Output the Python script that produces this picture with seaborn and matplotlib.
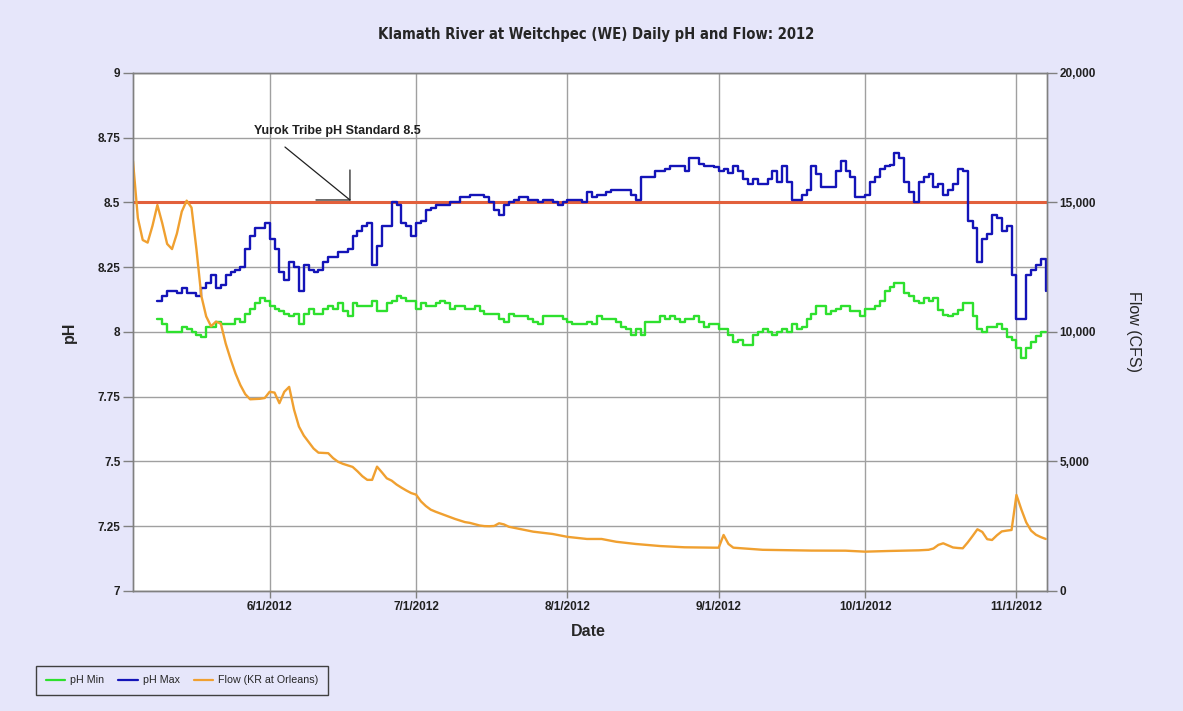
import pandas as pd
import numpy as np
import seaborn as sns
import matplotlib.pyplot as plt
from matplotlib.ticker import FuncFormatter, MultipleLocator
from matplotlib.lines import Line2D
import matplotlib.dates as mdates

# Daily pH readings, first day 5/9/2012
ph_start = "2012-05-09"
ph_min = [8.05, 8.03, 8.00, 8.00, 8.00, 8.02, 8.01, 8.00, 7.99, 7.98,
          8.02, 8.02, 8.04, 8.03, 8.03, 8.03, 8.05, 8.04, 8.07, 8.09,
          8.11, 8.13, 8.12, 8.10, 8.09, 8.08, 8.07, 8.06, 8.07, 8.03,
          8.07, 8.09, 8.07, 8.07, 8.09, 8.10, 8.09, 8.11, 8.08, 8.06,
          8.11, 8.10, 8.10, 8.10, 8.12, 8.08, 8.08, 8.11, 8.12, 8.14,
          8.13, 8.12, 8.12, 8.09, 8.11, 8.10, 8.10, 8.11, 8.12, 8.11,
          8.09, 8.10, 8.10, 8.09, 8.09, 8.10, 8.08, 8.07, 8.07, 8.07,
          8.05, 8.04, 8.07, 8.06, 8.06, 8.06, 8.05, 8.04, 8.03, 8.06,
          8.06, 8.06, 8.06, 8.05, 8.04, 8.03, 8.03, 8.03, 8.04, 8.03,
          8.06, 8.05, 8.05, 8.05, 8.04, 8.02, 8.01, 7.99, 8.01, 7.99,
          8.04, 8.04, 8.04, 8.06, 8.05, 8.06, 8.05, 8.04, 8.05, 8.05,
          8.06, 8.04, 8.02, 8.03, 8.03, 8.01, 8.01, 7.99, 7.96, 7.97,
          7.95, 7.95, 7.99, 8.00, 8.01, 8.00, 7.99, 8.00, 8.01, 8.00,
          8.03, 8.01, 8.02, 8.05, 8.07, 8.10, 8.10, 8.07, 8.08, 8.09,
          8.10, 8.10, 8.08, 8.08, 8.06, 8.09, 8.09, 8.10, 8.12, 8.16,
          8.175, 8.19, 8.19, 8.15, 8.14, 8.12, 8.11, 8.13, 8.12, 8.13,
          8.085, 8.065, 8.06, 8.07, 8.085, 8.11, 8.11, 8.06, 8.01, 8.00,
          8.02, 8.02, 8.03, 8.01, 7.98, 7.97, 7.94, 7.90, 7.94, 7.96,
          7.985, 8.00, 8.00]
ph_max = [8.12, 8.14, 8.16, 8.16, 8.15, 8.17, 8.15, 8.15, 8.14, 8.17,
          8.19, 8.22, 8.17, 8.18, 8.22, 8.23, 8.24, 8.25, 8.32, 8.37,
          8.40, 8.40, 8.42, 8.36, 8.32, 8.23, 8.20, 8.27, 8.25, 8.16,
          8.26, 8.24, 8.23, 8.24, 8.27, 8.29, 8.29, 8.31, 8.31, 8.32,
          8.37, 8.39, 8.41, 8.42, 8.26, 8.33, 8.41, 8.41, 8.50, 8.49,
          8.42, 8.41, 8.37, 8.42, 8.43, 8.47, 8.48, 8.49, 8.49, 8.49,
          8.50, 8.50, 8.52, 8.52, 8.53, 8.53, 8.53, 8.52, 8.50, 8.47,
          8.45, 8.49, 8.50, 8.51, 8.52, 8.52, 8.51, 8.51, 8.50, 8.51,
          8.51, 8.50, 8.49, 8.50, 8.51, 8.51, 8.51, 8.50, 8.54, 8.52,
          8.53, 8.53, 8.54, 8.55, 8.55, 8.55, 8.55, 8.53, 8.51, 8.60,
          8.60, 8.60, 8.62, 8.62, 8.63, 8.64, 8.64, 8.64, 8.62, 8.67,
          8.67, 8.65, 8.64, 8.64, 8.635, 8.62, 8.63, 8.615, 8.64, 8.62,
          8.59, 8.57, 8.59, 8.57, 8.57, 8.59, 8.62, 8.58, 8.64, 8.58,
          8.51, 8.51, 8.53, 8.55, 8.64, 8.61, 8.56, 8.56, 8.56, 8.62,
          8.66, 8.62, 8.60, 8.52, 8.52, 8.53, 8.58, 8.60, 8.63, 8.64,
          8.645, 8.69, 8.67, 8.58, 8.54, 8.50, 8.58, 8.60, 8.61, 8.56,
          8.57, 8.53, 8.55, 8.57, 8.63, 8.62, 8.43, 8.40, 8.27, 8.36,
          8.38, 8.45, 8.44, 8.39, 8.41, 8.22, 8.05, 8.05, 8.22, 8.24,
          8.26, 8.28, 8.16]
ph_standard = 8.5

# Flow at Orleans (cfs)
flow_dates = ["2012-05-04", "2012-05-05", "2012-05-06", "2012-05-07", "2012-05-08",
              "2012-05-09", "2012-05-10", "2012-05-11", "2012-05-12", "2012-05-13",
              "2012-05-14", "2012-05-15", "2012-05-16", "2012-05-17", "2012-05-18",
              "2012-05-19", "2012-05-20", "2012-05-21", "2012-05-22", "2012-05-23",
              "2012-05-24", "2012-05-25", "2012-05-26", "2012-05-27", "2012-05-28",
              "2012-05-29", "2012-05-30", "2012-05-31", "2012-06-01", "2012-06-02",
              "2012-06-03", "2012-06-04", "2012-06-05", "2012-06-06", "2012-06-07",
              "2012-06-08", "2012-06-09", "2012-06-10", "2012-06-11", "2012-06-12",
              "2012-06-13", "2012-06-14", "2012-06-15", "2012-06-16", "2012-06-17",
              "2012-06-18", "2012-06-19", "2012-06-20", "2012-06-21", "2012-06-22",
              "2012-06-23", "2012-06-24", "2012-06-25", "2012-06-26", "2012-06-27",
              "2012-06-28", "2012-06-29", "2012-06-30", "2012-07-01", "2012-07-02",
              "2012-07-03", "2012-07-04", "2012-07-05", "2012-07-06", "2012-07-07",
              "2012-07-08", "2012-07-09", "2012-07-10", "2012-07-11", "2012-07-12",
              "2012-07-13", "2012-07-14", "2012-07-15", "2012-07-16", "2012-07-17",
              "2012-07-18", "2012-07-19", "2012-07-20", "2012-07-25", "2012-07-29",
              "2012-08-01", "2012-08-05", "2012-08-08", "2012-08-11", "2012-08-15",
              "2012-08-20", "2012-08-25", "2012-08-31", "2012-09-01", "2012-09-02",
              "2012-09-03", "2012-09-04", "2012-09-10", "2012-09-20", "2012-09-27",
              "2012-10-01", "2012-10-06", "2012-10-12", "2012-10-14", "2012-10-15",
              "2012-10-16", "2012-10-17", "2012-10-18", "2012-10-19", "2012-10-20",
              "2012-10-21", "2012-10-22", "2012-10-23", "2012-10-24", "2012-10-25",
              "2012-10-26", "2012-10-27", "2012-10-28", "2012-10-29", "2012-10-30",
              "2012-10-31", "2012-11-01", "2012-11-02", "2012-11-03", "2012-11-04",
              "2012-11-05", "2012-11-06", "2012-11-07"]
flow_cfs = [16600, 14400, 13550, 13450, 14100, 14900, 14200, 13400, 13200, 13800,
            14650, 15070, 14800, 13200, 11400, 10600, 10220, 10400, 10320, 9550,
            8950, 8400, 7950, 7600, 7400, 7410, 7420, 7450, 7690, 7660,
            7250, 7690, 7880, 7000, 6350, 6000, 5750, 5500, 5340, 5330,
            5320, 5130, 4990, 4910, 4850, 4790, 4620, 4430, 4290, 4290,
            4800, 4580, 4350, 4260, 4110, 3990, 3880, 3780, 3720, 3460,
            3280, 3140, 3060, 2990, 2920, 2850, 2780, 2720, 2660, 2630,
            2580, 2530, 2505, 2500, 2510, 2614, 2570, 2480, 2290, 2200,
            2090, 2008, 2008, 1900, 1815, 1735, 1687, 1672, 1672, 2162,
            1815, 1672, 1590, 1560, 1556, 1518, 1545, 1570, 1590, 1640,
            1780, 1841, 1760, 1680, 1660, 1648, 1870, 2120, 2382, 2280,
            2000, 1969, 2150, 2300, 2330, 2355, 3707, 3150, 2650, 2330,
            2170, 2080, 2008]

month_ticks = ["2012-06-01", "2012-07-01", "2012-08-01", "2012-09-01", "2012-10-01", "2012-11-01"]

ph = pd.DataFrame({"Date": pd.date_range(ph_start, periods=len(ph_max)),
                   "pH Min": ph_min, "pH Max": ph_max})
flow = pd.DataFrame({"Date": pd.to_datetime(flow_dates), "Flow": flow_cfs})

sns.set_style("white")
plt.rcParams['font.family'] = ['Liberation Sans', 'DejaVu Sans']

bg = "#E6E6FA"
c_min, c_max, c_flow, c_std = "#2EE02E", "#1414B8", "#F0A030", "#E2603C"
grid_c = "#A0A0A0"

fig = plt.figure(figsize=(11.83, 7.11), dpi=100, facecolor=bg)
ax = fig.add_axes([0.1124, 0.1688, 0.7726, 0.7286])
ax.set_facecolor("white")

ax.axhline(ph_standard, color=c_std, lw=2.2, zorder=3)
sns.lineplot(data=ph, x="Date", y="pH Min", drawstyle="steps-post", color=c_min, lw=1.7, ax=ax, zorder=4)
sns.lineplot(data=ph, x="Date", y="pH Max", drawstyle="steps-post", color=c_max, lw=1.7, ax=ax, zorder=4)

ax2 = ax.twinx()
sns.lineplot(data=flow, x="Date", y="Flow", color=c_flow, lw=1.7, ax=ax2)

ax.set_xlim(pd.Timestamp("2012-05-04"), pd.Timestamp("2012-11-07 06:00"))
ax.set_ylim(7, 9)
ax2.set_ylim(0, 20000)
ax.yaxis.set_major_locator(MultipleLocator(0.25))
ax.yaxis.set_major_formatter(FuncFormatter(lambda v, p: f"{v:g}"))
ax2.set_yticks([0, 5000, 10000, 15000, 20000])
ax2.yaxis.set_major_formatter(FuncFormatter(lambda v, p: f"{v:,.0f}"))
ax.set_xticks(pd.to_datetime(month_ticks))
ax.xaxis.set_major_formatter(FuncFormatter(
    lambda v, p: "{0.month}/{0.day}/{0.year}".format(mdates.num2date(v))))

ax.grid(True, color=grid_c, lw=1)
ax.set_axisbelow(True)
for a in (ax, ax2):
    for s in a.spines.values():
        s.set_color("#808080")
        s.set_linewidth(1)
ax.tick_params(axis="y", direction="out", length=7, width=1, color="#808080", pad=2,
               labelsize=8.5, labelcolor="#202020", left=True)
ax.tick_params(axis="x", direction="out", length=5, width=1, color="#808080", pad=2,
               labelsize=8.5, labelcolor="#202020", bottom=True)
ax2.tick_params(axis="y", direction="out", length=7, width=1, color="#808080", pad=2,
                labelsize=8.5, labelcolor="#202020", right=True)
for lab in ax.get_xticklabels() + ax.get_yticklabels() + ax2.get_yticklabels():
    lab.set_fontweight("bold")

ax.set_ylabel("pH", fontsize=11.5, fontweight="bold")
ax.yaxis.set_label_coords(-0.061, 0.5)
ax.set_xlabel("Date", fontsize=11.5, fontweight="bold")
ax.xaxis.set_label_coords(0.498, -0.064)
ax2.set_ylabel("Flow (CFS)", fontsize=11.5, rotation=270, va="bottom")
ax2.yaxis.set_label_coords(1.087, 0.5)

fig.suptitle("Klamath River at Weitchpec (WE) Daily pH and Flow: 2012",
             x=0.504, y=0.952, va="center", fontsize=10.6, fontweight="bold",
             family="DejaVu Sans", fontstretch="condensed")

# standard label with its pointer (shaft plus a square head)
ax.text(0.2232, 0.888, "Yurok Tribe pH Standard 8.5", transform=ax.transAxes,
        ha="center", va="center", fontsize=9, fontweight="bold", color="#202020")
tip = (0.2374, 0.7548)
for end in [(0.1663, 0.857), (0.2002, 0.7548), (0.2374, 0.8127)]:
    ax.annotate("", xy=tip, xycoords="axes fraction", xytext=end, textcoords="axes fraction",
                arrowprops=dict(arrowstyle="-", color="#202020", lw=0.9, shrinkA=0, shrinkB=0))

handles = [Line2D([], [], color=c_min, lw=1.6),
           Line2D([], [], color=c_max, lw=1.6),
           Line2D([], [], color=c_flow, lw=1.6)]
leg = fig.legend(handles, ["pH Min", "pH Max", "Flow (KR at Orleans)"],
                 loc="lower left", bbox_to_anchor=(0.0305, 0.0225), ncol=3,
                 frameon=True, fancybox=False, edgecolor="#404040", facecolor=bg,
                 fontsize=7.7, handlelength=1.8, columnspacing=1.3, borderpad=0.9,
                 handletextpad=0.5, borderaxespad=0)
leg.get_frame().set_linewidth(1)
leg.get_frame().set_alpha(1)

fig.savefig("out.png", dpi=100, facecolor=bg)
